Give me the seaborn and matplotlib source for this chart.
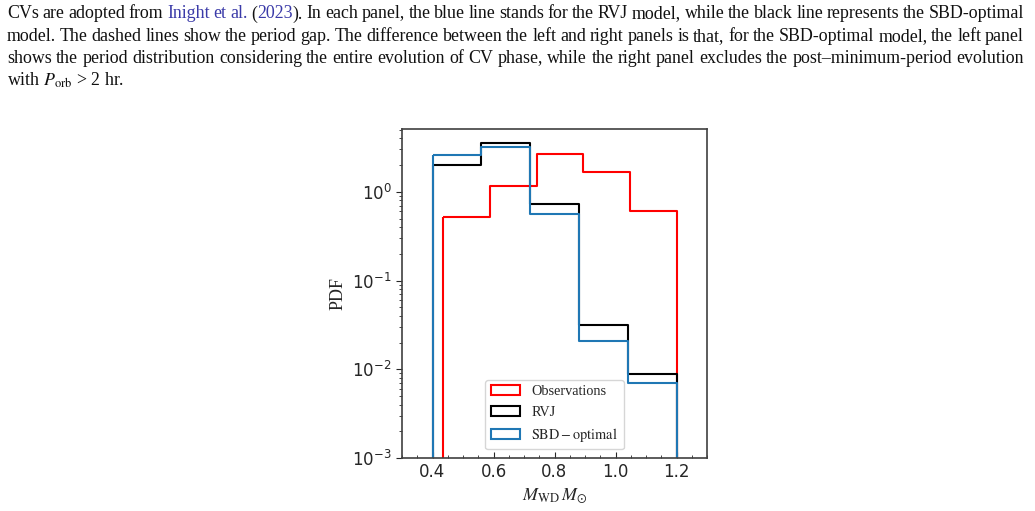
import math
import numpy as np
import pandas as pd
import matplotlib
matplotlib.use("Agg")
import matplotlib.pyplot as plt
import seaborn as sns
from matplotlib.ticker import MultipleLocator
from matplotlib.font_manager import FontProperties

# ---------------- data ----------------
obs_edges = [0.436, 0.589, 0.742, 0.894, 1.047, 1.200]
obs_pdf = [0.52, 1.15, 2.67, 1.68, 0.615]

model_edges = [0.40, 0.56, 0.72, 0.88, 1.04, 1.20]
rvj_pdf = [2.00, 3.55, 0.72, 0.0314, 0.0089]
sbd_pdf = [2.62, 3.17, 0.555, 0.0207, 0.0070]

series_labels = ["Observations", "RVJ", r"$\rm SBD-optimal$"]
series_colors = ["red", "black", "#1f77b4"]

x_ticks = [0.4, 0.6, 0.8, 1.0, 1.2]

caption_lines = [
    [["CVs"], ["are"], ["adopted"], ["from"], [("Inight", "link")], [("et", "link")],
     [("al.", "link")], [("(", None), ("2023", "link"), (").", None)], ["In"], ["each"],
     ["panel,"], ["the"], ["blue"], ["line"], ["stands"], ["for"], ["the"], ["RVJ"],
     ["model,"], ["while"], ["the"], ["black"], ["line"], ["represents"], ["the"],
     ["SBD-optimal"]],
    "model. The dashed lines show the period gap. The difference between the left and right panels is that, for the SBD-optimal model, the left panel",
    "shows the period distribution considering the entire evolution of CV phase, while the right panel excludes the post\u2013minimum-period evolution",
]
caption_last = r"with $P_{\rm orb}$ > 2 hr."

# ---------------- style ----------------
sns.set_style("ticks")
plt.rcParams["font.family"] = ["DejaVu Sans"]

W, H = 1035, 511
fig = plt.figure(figsize=(W / 100, H / 100), dpi=100)
ax = fig.add_axes([402 / W, 1 - 458 / H, (707 - 402) / W, (458 - 129) / H])
ax.set_yscale("log")

def draw_hist(edges, vals, color, label):
    centers = [(a + b) / 2 for a, b in zip(edges[:-1], edges[1:])]
    df = pd.DataFrame({"x": centers, "w": vals})
    sns.histplot(data=df, x="x", weights="w", bins=list(edges), element="step",
                 fill=True, color=color, facecolor="none", edgecolor=color,
                 linewidth=1.5, stat="count", ax=ax, label=label)

draw_hist(obs_edges, obs_pdf, series_colors[0], series_labels[0])
draw_hist(model_edges, rvj_pdf, series_colors[1], series_labels[1])
draw_hist(model_edges, sbd_pdf, series_colors[2], series_labels[2])

ax.set_xlim(0.3, 1.3)
ax.set_ylim(1e-3, 5.1)
ax.set_xticks(x_ticks)
ax.set_xticklabels([f"{t:.1f}" for t in x_ticks])
ax.xaxis.set_minor_locator(MultipleLocator(0.05))
ax.tick_params(axis="x", which="both", direction="in", labelsize=12, bottom=True)
ax.tick_params(axis="x", which="major", length=4)
ax.tick_params(axis="x", which="minor", length=2.5)
ax.tick_params(axis="y", which="both", direction="out", labelsize=12, left=True)
ax.tick_params(axis="y", which="major", length=4)
ax.tick_params(axis="y", which="minor", length=2.5)
for s in ax.spines.values():
    s.set_visible(True)
    s.set_linewidth(1.2)
    s.set_color("0.25")

ax.set_ylabel("PDF", family="Liberation Serif", fontsize=13, labelpad=4)
ax.set_xlabel(r"$M_{\rm WD}\,M_{\odot}$", fontsize=13, math_fontfamily="stix", labelpad=4)

leg = ax.legend(loc="lower center", prop={"family": "Liberation Serif", "size": 10.3},
                frameon=True, fancybox=True, framealpha=0.8, borderaxespad=0.6,
                handlelength=2.0, handletextpad=0.8)
for t in leg.get_texts():
    t.set_math_fontfamily("stix")

# ---------------- caption (justified) ----------------
txt_color = "#111111"
link_color = "#3a3aa8"
fs = 12.9
x_left, x_right = 7, 1024
baselines = [18, 41, 63, 86]
renderer = fig.canvas.get_renderer()
prop = FontProperties(family="Liberation Serif", size=fs)

def px2fig(x, y):
    return x / W, 1 - y / H

def snapped_y(seg, base):
    # compensate Agg's rounding of the bitmap bottom so all words share a baseline
    _, _, d = renderer.get_text_width_height_descent(seg, prop, ismath=False)
    return base + math.ceil(d - 1e-9) - d

for li, line in enumerate(caption_lines):
    if isinstance(line, str):
        words = [[w] for w in line.split(" ")]
    else:
        words = line
    words = [[(s, None) if isinstance(s, str) else s for s in w] for w in words]
    widths = []
    for w in words:
        tot = 0
        for seg, col in w:
            t = fig.text(0, 0, seg, fontproperties=prop)
            tot += t.get_window_extent(renderer).width
            t.remove()
        widths.append(tot)
    gap = (x_right - x_left - sum(widths)) / (len(words) - 1)
    x = x_left
    for w, wd in zip(words, widths):
        xx = x
        for seg, col in w:
            c = link_color if col == "link" else txt_color
            t = fig.text(*px2fig(xx, snapped_y(seg, baselines[li])), seg,
                         fontproperties=prop, color=c, va="baseline", ha="left")
            xx += t.get_window_extent(renderer).width
        x += wd + gap

fig.text(*px2fig(x_left, baselines[3]), caption_last, fontproperties=prop,
         color=txt_color, va="baseline", ha="left", math_fontfamily="stix")

fig.savefig("out.png", dpi=100)
